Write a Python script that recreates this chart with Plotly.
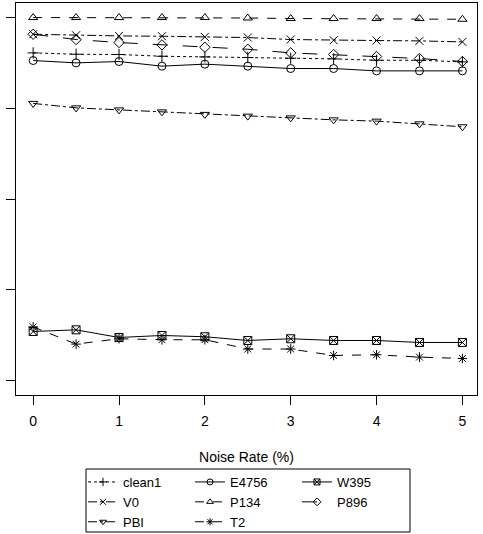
import plotly.graph_objects as go

noise = [0, 0.5, 1, 1.5, 2, 2.5, 3, 3.5, 4, 4.5, 5]

clean1 = [0.8608, 0.8593, 0.8590, 0.8571, 0.8564, 0.8557, 0.8549, 0.8542, 0.8527, 0.8527, 0.8509]
V0     = [0.8813, 0.8802, 0.8795, 0.8791, 0.8784, 0.8777, 0.8755, 0.8747, 0.8744, 0.8740, 0.8729]
PBI    = [0.8052, 0.8003, 0.7981, 0.7959, 0.7931, 0.7912, 0.7893, 0.7871, 0.7857, 0.7827, 0.7795]
E4756  = [0.8524, 0.8498, 0.8513, 0.8462, 0.8484, 0.8462, 0.8436, 0.8436, 0.8410, 0.8410, 0.8410]
P134   = [0.8997, 0.8997, 0.8997, 0.8997, 0.8997, 0.8992, 0.8986, 0.8986, 0.8986, 0.8986, 0.8978]
T2     = [0.5593, 0.5403, 0.5462, 0.5451, 0.5451, 0.5349, 0.5349, 0.5278, 0.5286, 0.5260, 0.5245]
W395   = [0.5542, 0.5560, 0.5476, 0.5498, 0.5484, 0.5443, 0.5462, 0.5443, 0.5443, 0.5421, 0.5421]
P896   = [0.8813, 0.8755, 0.8722, 0.8696, 0.8670, 0.8648, 0.8608, 0.8590, 0.8568, 0.8546, 0.8513]

x_ticks = [0, 1, 2, 3, 4, 5]
y_ticks = [0.5, 0.6, 0.7, 0.8, 0.9]

series = [
    # name, values, dash, symbol, legend
    ("clean1", clean1, "dot", "cross-thin-open", "legend"),
    ("V0", V0, "dashdot", "x-thin-open", "legend"),
    ("PBI", PBI, "dashdot", "triangle-down-open", "legend"),
    ("E4756", E4756, "solid", "circle-open", "legend2"),
    ("P134", P134, "dash", "triangle-up-open", "legend2"),
    ("T2", T2, "dash", "asterisk-open", "legend2"),
    ("W395", W395, "solid", "square-x-open", "legend3"),
    ("P896", P896, "longdash", "diamond-open", "legend3"),
]

fig = go.Figure()
for name, vals, dash, sym, leg in series:
    fig.add_trace(go.Scatter(
        x=noise, y=vals, name=name, mode="lines+markers",
        line=dict(color="black", width=1, dash=dash),
        marker=dict(symbol=sym, size=8, color="black",
                    line=dict(color="black", width=1)),
        showlegend=False,
    ))
# legend entries (smaller key symbols, as in the reference)
for name, vals, dash, sym, leg in series:
    fig.add_trace(go.Scatter(
        x=[None], y=[None], name=name, mode="lines+markers",
        line=dict(color="black", width=1, dash=dash),
        marker=dict(symbol=sym, size=6, color="black",
                    line=dict(color="black", width=1)),
        legend=leg, showlegend=True,
    ))

fam = "Liberation Sans, Arial, sans-serif"
font = dict(family=fam, size=14, color="black")
legfont = dict(family=fam, size=13, color="black")

W, H = 483, 534
ml, mr, mt, mb = 16, 6, 3, 139
pw, ph = W - ml - mr, H - mt - mb

def px_x(p):
    return (p - ml) / pw

def px_y(p):
    return (H - mb - p) / ph

leg_common = dict(bgcolor="rgba(0,0,0,0)", borderwidth=0, font=legfont,
                  orientation="v", xanchor="left", yanchor="top",
                  itemwidth=30, traceorder="normal")

leg_top = px_y(467)

fig.update_layout(
    width=W, height=H,
    margin=dict(l=ml, r=mr, t=mt, b=mb, autoexpand=False),
    paper_bgcolor="white", plot_bgcolor="white",
    font=font,
    showlegend=True,
    legend=dict(x=px_x(83), y=leg_top, **leg_common),
    legend2=dict(x=px_x(190), y=leg_top, **leg_common),
    legend3=dict(x=px_x(297), y=leg_top, **leg_common),
    xaxis=dict(
        range=[-0.2, 5.17], tickvals=x_ticks, ticktext=[str(t) for t in x_ticks],
        showgrid=False, zeroline=False, showline=True, mirror=True,
        linecolor="black", linewidth=1, ticks="outside", ticklen=9,
        tickcolor="black", tickwidth=1, ticklabelstandoff=4,
        tickfont=font, automargin=False,
        title=dict(text="Noise Rate (%)", font=font, standoff=24),
    ),
    yaxis=dict(
        range=[0.4843, 0.9157], tickvals=y_ticks, showticklabels=False,
        showgrid=False, zeroline=False, showline=True, mirror=True,
        linecolor="black", linewidth=1, ticks="outside", ticklen=9,
        tickcolor="black", tickwidth=1, automargin=False,
    ),
    shapes=[dict(type="rect", xref="paper", yref="paper",
                 x0=px_x(86), x1=px_x(410), y0=px_y(532), y1=px_y(469),
                 line=dict(color="black", width=1), fillcolor="rgba(0,0,0,0)")],
)

fig.write_html("out.html")
